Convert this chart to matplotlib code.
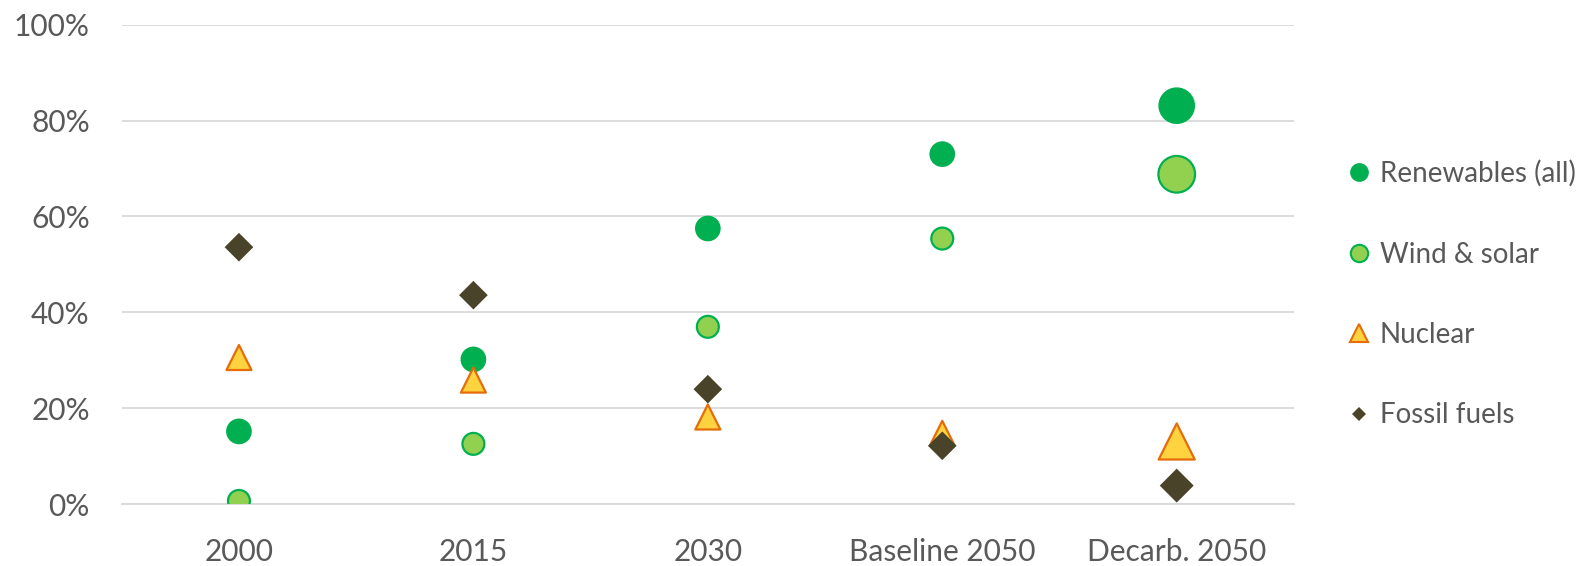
import matplotlib
matplotlib.use("Agg")
import matplotlib.pyplot as plt
from matplotlib.lines import Line2D
from matplotlib.ticker import PercentFormatter

plt.rcParams['font.family'] = ['Lato', 'DejaVu Sans']

categories = ["2000", "2015", "2030", "Baseline 2050", "Decarb. 2050"]
renewables = [15.2, 30.2, 57.5, 73.0, 83.1]
wind_solar = [0.7, 12.6, 37.0, 55.4, 68.8]
nuclear = [30.6, 25.9, 18.2, 14.8, 13.1]
fossil = [53.6, 43.6, 24.0, 12.2, 3.9]

# marker diameters (pt); the decarbonised scenario is drawn larger
ms_renew = [18.5, 18.5, 18.5, 18.5, 26.4]
ms_wind = [15.8, 15.8, 15.8, 15.8, 26.4]
ms_nuc = [18.0, 18.0, 18.0, 18.0, 26.0]
ms_fossil = [14.6, 14.6, 14.6, 14.6, 17.3]

GREEN = "#00B050"
LIGHT_GREEN = "#92D050"
YELLOW = "#FFD23F"
ORANGE = "#E46C0A"
OLIVE = "#494429"
GRID = "#D9D9D9"
TEXT = "#595959"

fig = plt.figure(figsize=(15.83, 5.66), dpi=100)
ax = fig.add_axes([0.0769, 0.109, 0.7405, 0.8475])

x = list(range(len(categories)))
ax.scatter(x, renewables, s=[m ** 2 for m in ms_renew], marker='o',
           color=GREEN, linewidths=0, zorder=3)
ax.scatter(x, wind_solar, s=[m ** 2 for m in ms_wind], marker='o',
           facecolor=LIGHT_GREEN, edgecolor=GREEN, linewidths=1.6, zorder=4)
ax.scatter(x, nuclear, s=[m ** 2 for m in ms_nuc], marker='^',
           facecolor=YELLOW, edgecolor=ORANGE, linewidths=1.6, zorder=5)
ax.scatter(x, fossil, s=[m ** 2 for m in ms_fossil], marker='D',
           color=OLIVE, linewidths=0, zorder=6)

ax.set_xlim(-0.5, 4.5)
ax.set_ylim(0, 100)
ax.set_yticks([0, 20, 40, 60, 80, 100])
ax.yaxis.set_major_formatter(PercentFormatter(decimals=0))
ax.set_xticks(x)
ax.set_xticklabels(categories)
ax.grid(axis='y', color=GRID, linewidth=1.3, zorder=0)
ax.set_axisbelow(True)
for s in ['top', 'right', 'left']:
    ax.spines[s].set_visible(False)
ax.spines['bottom'].set_color(GRID)
ax.spines['bottom'].set_linewidth(1.3)
ax.tick_params(axis='both', length=0, labelsize=21.5, colors=TEXT)
ax.tick_params(axis='y', pad=23)
ax.tick_params(axis='x', pad=24)

handles = [
    Line2D([], [], linestyle='none', marker='o', markersize=13.5,
           markerfacecolor=GREEN, markeredgewidth=0),
    Line2D([], [], linestyle='none', marker='o', markersize=12.5,
           markerfacecolor=LIGHT_GREEN, markeredgecolor=GREEN, markeredgewidth=1.5),
    Line2D([], [], linestyle='none', marker='^', markersize=13.5,
           markerfacecolor=YELLOW, markeredgecolor=ORANGE, markeredgewidth=1.5),
    Line2D([], [], linestyle='none', marker='D', markersize=7.6,
           markerfacecolor=OLIVE, markeredgewidth=0),
]
labels = ["Renewables (all)", "Wind & solar", "Nuclear", "Fossil fuels"]
leg = fig.legend(handles, labels, loc='center left', bbox_to_anchor=(0.8445, 0.480),
                 frameon=False, fontsize=20, labelspacing=1.96,
                 handlelength=0.8, handletextpad=0.35, borderaxespad=0)
for t in leg.get_texts():
    t.set_color(TEXT)

fig.savefig("out.png", dpi=100)
